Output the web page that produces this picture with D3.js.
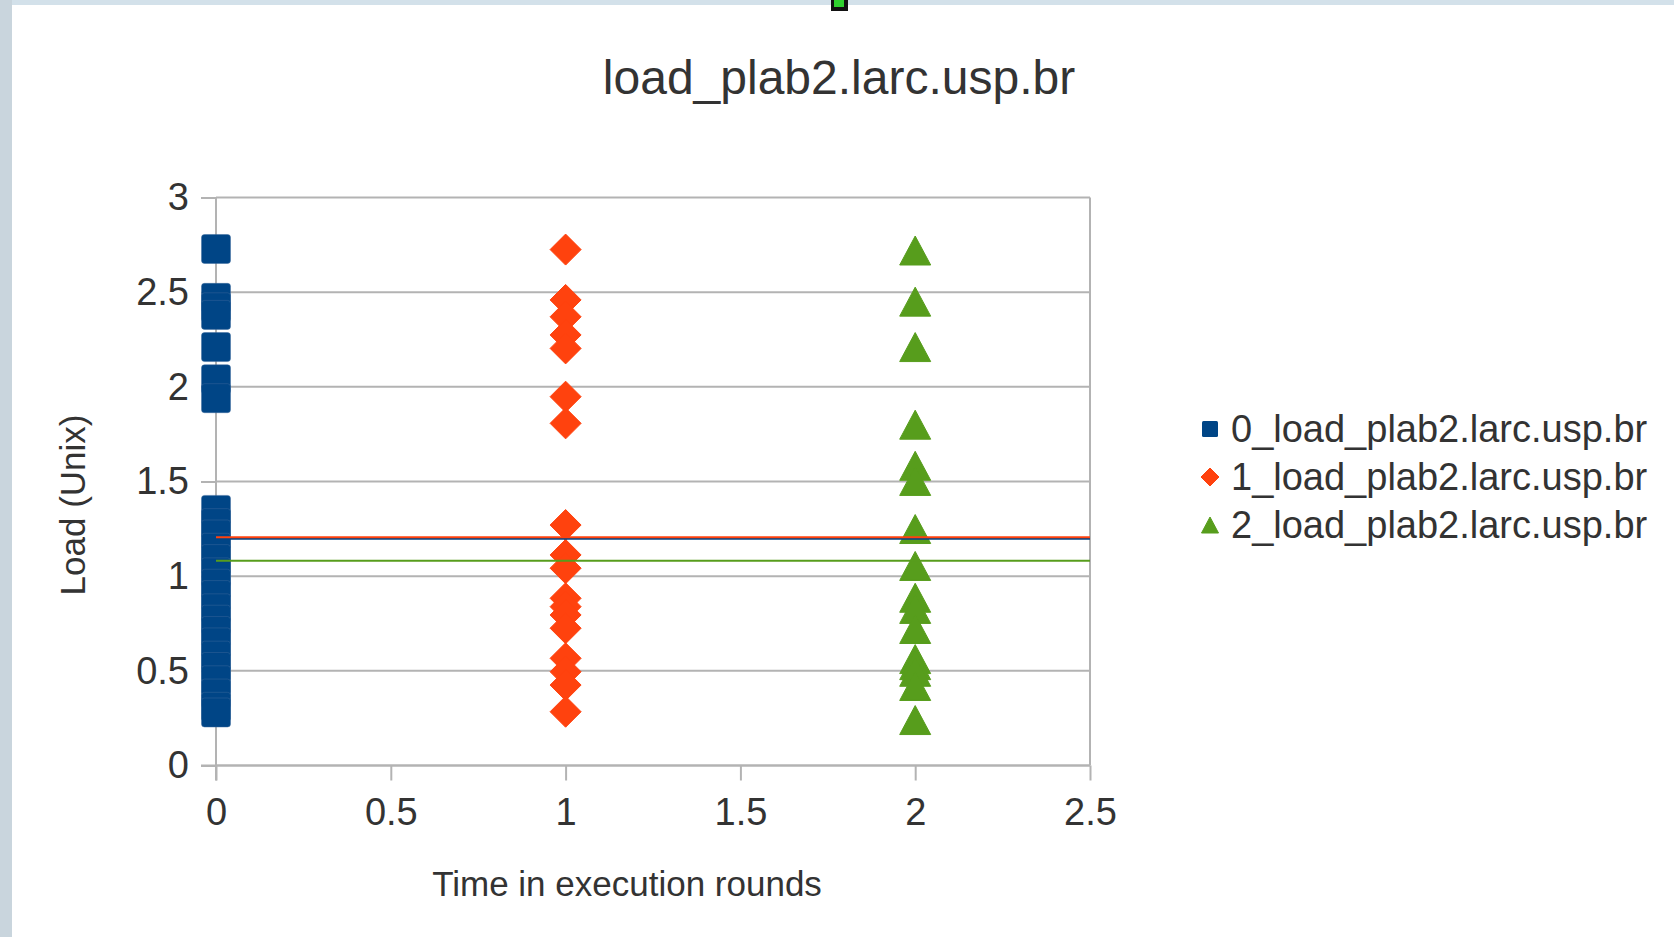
<!DOCTYPE html>
<html>
<head>
<meta charset="utf-8">
<script src="https://cdn.jsdelivr.net/npm/d3@7"></script>
<style>
  html, body { margin: 0; padding: 0; background: #fff; }
  svg { display: block; font-family: "Liberation Sans", Arial, sans-serif; }
</style>
</head>
<body>
<svg id="chart" width="1674" height="937"></svg>
<script>
// ---- data ----
const chartTitle = "load_plab2.larc.usp.br";
const xAxisTitle = "Time in execution rounds";
const yAxisTitle = "Load (Unix)";
const seriesNames = ["0_load_plab2.larc.usp.br", "1_load_plab2.larc.usp.br", "2_load_plab2.larc.usp.br"];
const seriesRound = [0, 1, 2];
const series0Load = [2.728, 2.47, 2.42, 2.38, 2.21, 2.04, 1.94, 1.35, 1.28, 1.22, 1.15, 1.09, 1.02, 0.96, 0.90, 0.83, 0.77, 0.71, 0.65, 0.58, 0.52, 0.45, 0.38, 0.31, 0.28];
const series1Load = [2.725, 2.459, 2.370, 2.274, 2.203, 1.948, 1.807, 1.270, 1.112, 1.042, 0.883, 0.839, 0.795, 0.725, 0.566, 0.495, 0.425, 0.284];
const series2Load = [2.72, 2.45, 2.21, 1.80, 1.583, 1.503, 1.249, 1.054, 0.886, 0.827, 0.721, 0.562, 0.53, 0.495, 0.42, 0.240];
const seriesMean = [1.197, 1.206, 1.082];
const xTickValues = [0, 0.5, 1, 1.5, 2, 2.5];
const yTickValues = [0, 0.5, 1, 1.5, 2, 2.5, 3];
const seriesColors = ["#004586", "#ff420e", "#579d1c"];

// ---- layout ----
const svg = d3.select("#chart");
const W = 1674, H = 937;
const plot = { left: 216, right: 1090, top: 197.5, bottom: 765.5 };
const x = d3.scaleLinear().domain([0, 2.5]).range([plot.left, plot.right]);
const y = d3.scaleLinear().domain([0, 3]).range([plot.bottom, plot.top]);
const gridColor = "#b3b3b3";
const textColor = "#333333";

// background decorations (screenshot frame)
svg.append("rect").attr("x", 0).attr("y", 0).attr("width", W).attr("height", 5).attr("fill", "#d3e1ea");
svg.append("rect").attr("x", 0).attr("y", 0).attr("width", 12).attr("height", H).attr("fill", "#c9d5dd");
svg.append("rect").attr("x", 831).attr("y", 0).attr("width", 17).attr("height", 11).attr("fill", "#111");
svg.append("rect").attr("x", 834).attr("y", 0).attr("width", 10).attr("height", 7).attr("fill", "#2fd12f");

// title
svg.append("text").attr("x", 839).attr("y", 94).attr("text-anchor", "middle")
  .attr("font-size", 48).attr("fill", textColor).text(chartTitle);

// gridlines
svg.append("g").selectAll("line").data(yTickValues).join("line")
  .attr("x1", x(0)).attr("x2", x(2.5)).attr("y1", d => y(d)).attr("y2", d => y(d))
  .attr("stroke", gridColor).attr("stroke-width", 2);
// right border
svg.append("line").attr("x1", x(2.5)).attr("x2", x(2.5)).attr("y1", y(3)).attr("y2", y(0))
  .attr("stroke", gridColor).attr("stroke-width", 2);

// axes
const yAxis = d3.axisLeft(y).tickValues(yTickValues).tickSize(15).tickPadding(12)
  .tickFormat(d => String(d));
const gy = svg.append("g").attr("transform", `translate(${x(0)},0)`).call(yAxis);
const xAxis = d3.axisBottom(x).tickValues(xTickValues).tickSize(15).tickPadding(18)
  .tickFormat(d => String(d));
const gx = svg.append("g").attr("transform", `translate(0,${y(0)})`).call(xAxis);
[gx, gy].forEach(g => {
  g.selectAll(".domain").remove();
  g.selectAll(".tick line").attr("stroke", gridColor).attr("stroke-width", 2);
  g.selectAll(".tick text").attr("fill", textColor).attr("font-size", 38)
    .attr("font-family", "Liberation Sans, Arial, sans-serif");
});
gx.selectAll(".tick text").attr("dy", "0.71em");
svg.append("line").attr("x1", x(0)).attr("x2", x(0)).attr("y1", y(3)).attr("y2", y(0) + 15)
  .attr("stroke", gridColor).attr("stroke-width", 2);
svg.append("line").attr("x1", x(0) - 15).attr("x2", x(2.5)).attr("y1", y(0)).attr("y2", y(0))
  .attr("stroke", gridColor).attr("stroke-width", 2);

// axis titles
svg.append("text").attr("x", 627).attr("y", 896).attr("text-anchor", "middle")
  .attr("font-size", 35).attr("fill", textColor).text(xAxisTitle);
svg.append("text").attr("transform", "translate(85,505) rotate(-90)").attr("text-anchor", "middle")
  .attr("font-size", 35).attr("fill", textColor).text(yAxisTitle);

// marker shapes
function squarePath(s) { const h = s / 2; return `M${-h},${-h}H${h}V${h}H${-h}Z`; }
function diamondPath(s) { const h = s / 2; return `M0,${-h}L${h},0L0,${h}L${-h},0Z`; }
function trianglePath(w, ht) { return `M0,${-ht / 2}L${w / 2},${ht / 2}L${-w / 2},${ht / 2}Z`; }

const allSeries = [series0Load, series1Load, series2Load];
const shapes = [null, diamondPath(31), trianglePath(31, 29)];

allSeries.forEach((vals, i) => {
  const g = svg.append("g");
  if (i === 0) {
    g.selectAll("rect").data(vals).join("rect")
      .attr("x", x(seriesRound[i]) - 14.5).attr("y", d => y(d) - 14.5)
      .attr("width", 29).attr("height", 29).attr("rx", 3)
      .attr("fill", seriesColors[i]).attr("stroke", "#3a6a9c").attr("stroke-width", 0.8).attr("stroke-opacity", 0.6);
  } else {
    g.selectAll("path").data(vals).join("path")
      .attr("transform", d => `translate(${x(seriesRound[i])},${y(d)})`)
      .attr("d", shapes[i]).attr("fill", seriesColors[i])
      .attr("stroke-linejoin", "round").attr("stroke", seriesColors[i]).attr("stroke-width", 1);
  }
});

// mean value lines
const meanOrder = [2, 0, 1];
meanOrder.forEach(i => {
  svg.append("line").attr("x1", x(0)).attr("x2", x(2.5))
    .attr("y1", y(seriesMean[i])).attr("y2", y(seriesMean[i]))
    .attr("stroke", seriesColors[i]).attr("stroke-width", 2);
});

// legend
const legendX = 1210, legendY = [429, 477, 525];
const lg = svg.append("g");
seriesNames.forEach((name, i) => {
  const cy = legendY[i];
  if (i === 0) {
    lg.append("rect").attr("x", legendX - 8).attr("y", cy - 8).attr("width", 16).attr("height", 16)
      .attr("rx", 1.5).attr("fill", seriesColors[i]);
  } else if (i === 1) {
    lg.append("path").attr("transform", `translate(${legendX},${cy})`).attr("d", diamondPath(18))
      .attr("fill", seriesColors[i]).attr("stroke", seriesColors[i]).attr("stroke-linejoin", "round");
  } else {
    lg.append("path").attr("transform", `translate(${legendX},${cy})`).attr("d", trianglePath(17, 16))
      .attr("fill", seriesColors[i]).attr("stroke", seriesColors[i]).attr("stroke-linejoin", "round");
  }
  lg.append("text").attr("x", 1231).attr("y", cy).attr("dy", "0.35em")
    .attr("font-size", 38).attr("fill", textColor).text(name);
});
</script>
</body>
</html>
